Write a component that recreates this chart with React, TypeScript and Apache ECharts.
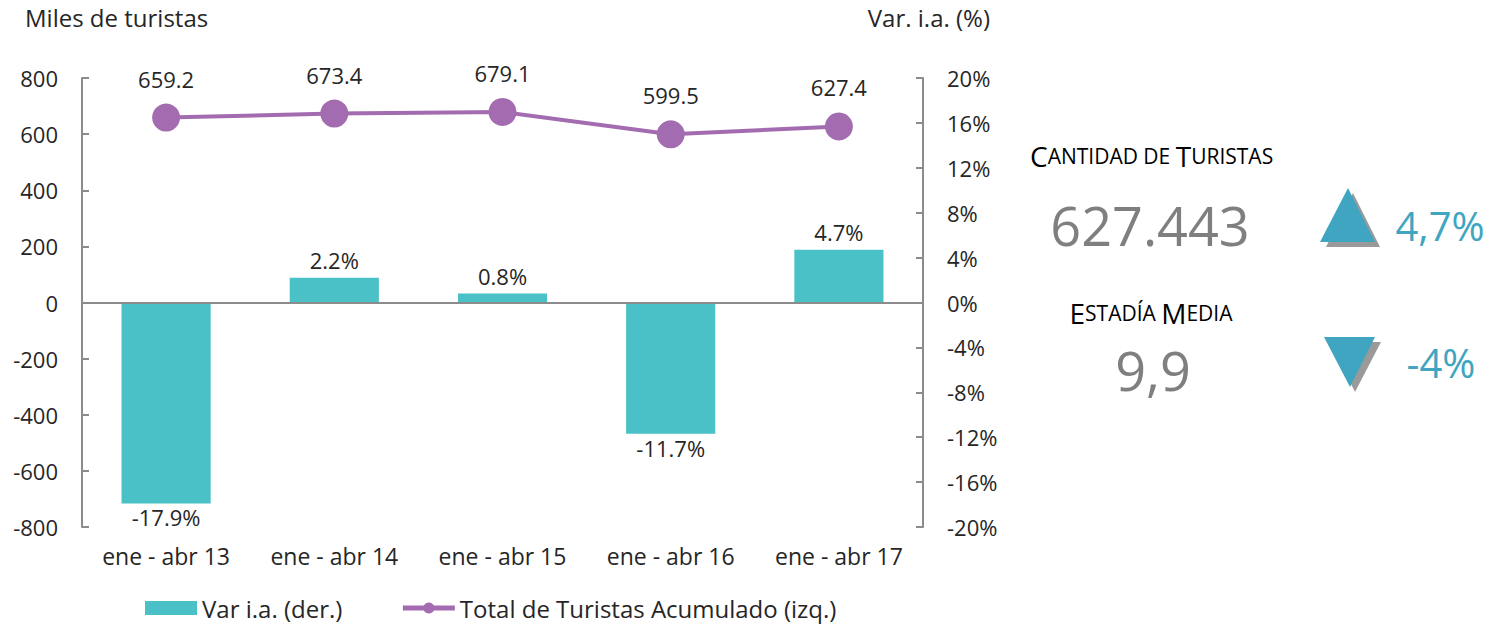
import React, { useEffect, useRef } from "react";
import * as echarts from "echarts";

const categories = ["ene - abr 13", "ene - abr 14", "ene - abr 15", "ene - abr 16", "ene - abr 17"];
const totalTuristas = [659.2, 673.4, 679.1, 599.5, 627.4];
const varIA = [-17.9, 2.2, 0.8, -11.7, 4.7];

const FONT = "'Open Sans', Lato, sans-serif";
const TEXT = "#262626";
const AXIS = "#8c8c8c";
const TEAL_BAR = "#4AC1C6";
const PURPLE = "#A46CB0";
const TEAL = "#3FA5C0";
const GRAY = "#7f7f7f";

export default function App() {
  const ref = useRef<HTMLDivElement>(null);
  useEffect(() => {
    document.body.style.margin = "0";
    const chart = echarts.init(ref.current!, null, { renderer: "svg" });
    const smallCaps = (parts: [string, string][]) => parts.map(([s, t]) => `{${s}|${t}}`).join("");
    chart.setOption({
      animation: false,
      textStyle: { fontFamily: FONT },
      grid: { left: 82, right: 578, top: 78, bottom: 97, containLabel: false },
      legend: {
        left: 140,
        top: 591,
        itemWidth: 52,
        itemHeight: 14,
        itemGap: 58,
        lineStyle: { width: 5 },
        textStyle: { fontSize: 24, color: TEXT, fontFamily: FONT },
        data: [
          { name: "Var i.a. (der.)", icon: "rect" },
          { name: "Total de Turistas Acumulado (izq.)" },
        ],
      },
      xAxis: {
        type: "category",
        data: categories,
        axisLine: { show: false, onZero: false },
        axisTick: { show: false },
        axisLabel: { color: TEXT, fontSize: 23, margin: 17 },
        position: "bottom",
      },
      yAxis: [
        {
          type: "value",
          min: -800,
          max: 800,
          interval: 200,
          position: "left",
          axisLine: { show: true, lineStyle: { color: AXIS, width: 2 } },
          axisTick: { show: true, inside: true, length: 7, lineStyle: { color: AXIS, width: 2 } },
          splitLine: { show: false },
          axisLabel: { color: TEXT, fontSize: 22, margin: 24 },
        },
        {
          type: "value",
          min: -20,
          max: 20,
          interval: 4,
          position: "right",
          axisLine: { show: true, lineStyle: { color: AXIS, width: 2 } },
          axisTick: { show: true, inside: true, length: 7, lineStyle: { color: AXIS, width: 2 } },
          splitLine: { show: false },
          axisLabel: { color: TEXT, fontSize: 22, margin: 24, formatter: (v: number) => `${v}%` },
        },
      ],
      series: [
        {
          name: "Var i.a. (der.)",
          type: "bar",
          yAxisIndex: 1,
          data: varIA.map((v) =>
            v < 0 ? { value: v, label: { position: "bottom", distance: 3 } } : { value: v }
          ),
          barWidth: "53%",
          itemStyle: { color: TEAL_BAR },
          label: {
            show: true,
            position: "top",
            distance: 7,
            color: TEXT,
            fontSize: 22,
            formatter: (p: any) => `${p.value.toFixed(1)}%`,
          },
          markLine: {
            silent: true,
            symbol: "none",
            label: { show: false },
            lineStyle: { color: AXIS, width: 2, type: "solid" },
            data: [{ yAxis: 0 }],
          },
          z: 2,
        },
        {
          name: "Total de Turistas Acumulado (izq.)",
          type: "line",
          yAxisIndex: 0,
          data: totalTuristas,
          symbol: "circle",
          symbolSize: 28,
          lineStyle: { color: PURPLE, width: 4 },
          itemStyle: { color: PURPLE },
          label: {
            show: true,
            position: "top",
            distance: 14,
            color: TEXT,
            fontSize: 22,
            formatter: (p: any) => p.value.toFixed(1),
          },
          z: 3,
        },
      ],
      graphic: [
        { type: "text", left: 25, top: 5, style: { text: "Miles de turistas", fontSize: 24, fill: TEXT, fontFamily: FONT } },
        { type: "text", right: 511, top: 5, style: { text: "Var. i.a. (%)", fontSize: 24, fill: TEXT, fontFamily: FONT } },
        {
          type: "text",
          x: 1030,
          y: 156,
          style: {
            text: smallCaps([["b", "C"], ["s", "ANTIDAD DE "], ["b", "T"], ["s", "URISTAS"]]),
            verticalAlign: "middle",
            fontFamily: FONT,
            rich: {
              b: { fontSize: 28, fill: "#000", fontFamily: FONT },
              s: { fontSize: 21, fill: "#000", fontFamily: FONT },
            },
          },
        },
        { type: "text", x: 1150, y: 225, style: { text: "627.443", fontSize: 54, fill: GRAY, fontFamily: FONT, align: "center", verticalAlign: "middle" } },
        { type: "polygon", shape: { points: [[1353, 193], [1326, 247], [1380, 247]] }, style: { fill: "#9a9a9a" } },
        { type: "polygon", shape: { points: [[1348, 188], [1320, 242], [1375, 242]] }, style: { fill: TEAL } },
        { type: "text", x: 1440, y: 225, style: { text: "4,7%", fontSize: 40, fill: TEAL, fontFamily: FONT, align: "center", verticalAlign: "middle" } },
        {
          type: "text",
          x: 1151,
          y: 313,
          style: {
            text: smallCaps([["b", "E"], ["s", "STADÍA "], ["b", "M"], ["s", "EDIA"]]),
            align: "center",
            verticalAlign: "middle",
            fontFamily: FONT,
            rich: {
              b: { fontSize: 28, fill: "#000", fontFamily: FONT },
              s: { fontSize: 21, fill: "#000", fontFamily: FONT },
            },
          },
        },
        { type: "text", x: 1153, y: 370, style: { text: "9,9", fontSize: 54, fill: GRAY, fontFamily: FONT, align: "center", verticalAlign: "middle" } },
        { type: "polygon", shape: { points: [[1330, 342], [1381, 342], [1355, 392]] }, style: { fill: "#9a9a9a" } },
        { type: "polygon", shape: { points: [[1324, 337], [1375, 337], [1350, 387]] }, style: { fill: TEAL } },
        { type: "text", x: 1441, y: 362, style: { text: "-4%", fontSize: 40, fill: TEAL, fontFamily: FONT, align: "center", verticalAlign: "middle" } },
      ],
    });
    return () => chart.dispose();
  }, []);
  return <div ref={ref} style={{ width: 1501, height: 624 }} />;
}
